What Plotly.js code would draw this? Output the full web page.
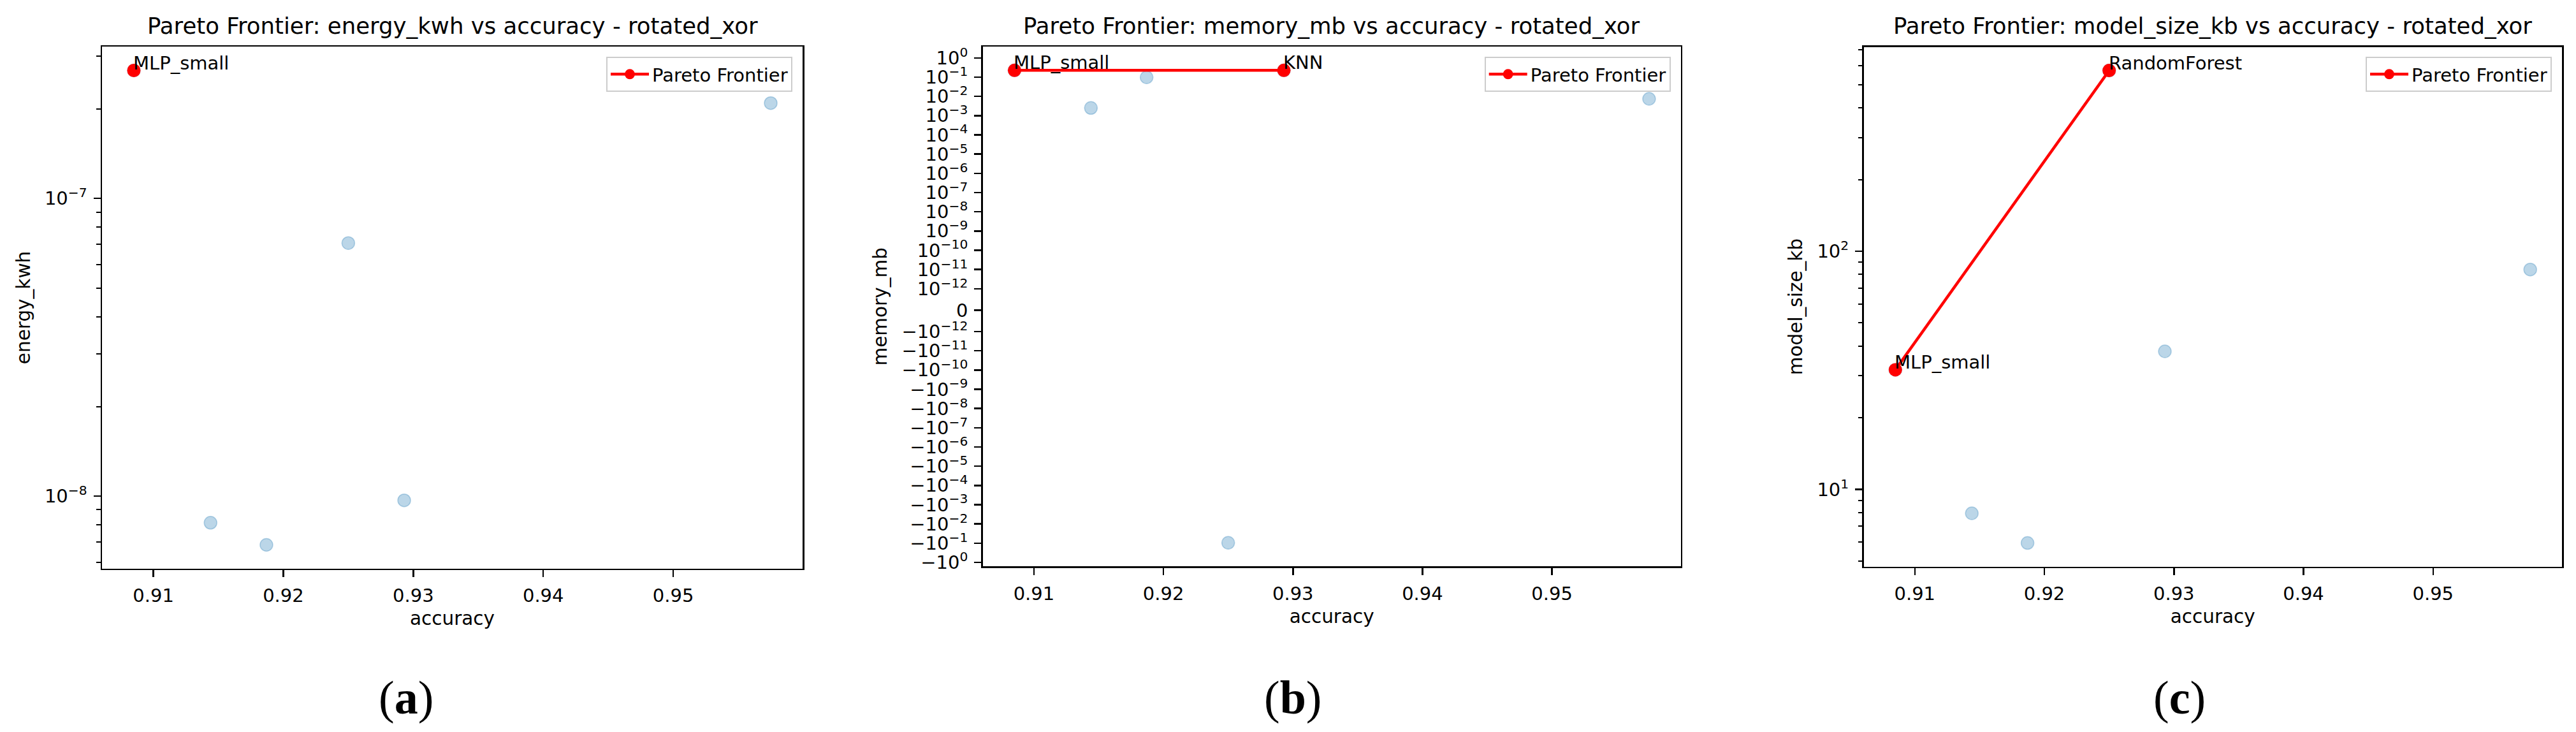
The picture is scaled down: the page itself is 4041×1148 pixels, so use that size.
<!DOCTYPE html>
<html>
<head>
<meta charset="utf-8">
<script src="https://cdn.plot.ly/plotly-3.0.1.min.js"></script>
<style>
  html, body { margin: 0; padding: 0; background: #fff; }
  #chart { width: 4041px; height: 1148px; }
</style>
</head>
<body>
<div id="chart"></div>
<script>
// --- data (dataset rotated_xor) ---
const models = ['MLP_small', 'model_2', 'model_3', 'RandomForest', 'KNN', 'model_6'];
const accuracy = [0.9085, 0.9144, 0.9187, 0.9250, 0.9293, 0.9575];
const energyKwh = [2.69e-7, 8.14e-9, 6.86e-9, 7.08e-8, 9.68e-9, 2.09e-7];
const memoryMb = [0.225, 0.0025, 0.098, -0.096, 0.225, 0.00745];
const modelSizeKb = [31.8, 7.94, 5.96, 574, 38.0, 83.8];

// models on each Pareto frontier
const energyFront = ['MLP_small'];
const memoryFront = ['MLP_small', 'KNN'];
const sizeFront = ['MLP_small', 'RandomForest'];

// tick labels
const accTicks = [0.91, 0.92, 0.93, 0.94, 0.95];
const energyTicks = [1e-8, 1e-7];
const sizeTicks = [10, 100];
const memExponents = [0, -1, -2, -3, -4, -5, -6, -7, -8, -9, -10, -11, -12];

const W = 4041, H = 1148;
const FONT = 'DejaVu Sans';
const px = (v) => v / W;
const py = (v) => 1 - v / H;

// matplotlib-style symlog (linthresh 1e-12, linscale 1), in decade units
const LINTHRESH = 1e-12;
const LINSCALE_ADJ = 1 / (1 - 1 / 10);
function symlog(v) {
  const a = Math.abs(v);
  if (a <= LINTHRESH) return (v / LINTHRESH) * LINSCALE_ADJ;
  return Math.sign(v) * (LINSCALE_ADJ + Math.log10(a / LINTHRESH));
}

const sup = (e) => '10<sup>' + String(e).replace('-', '\u2212') + '</sup>';

function padRange(vals) {
  const lo = Math.min(...vals), hi = Math.max(...vals);
  const m = (hi - lo) * 0.05;
  return [lo - m, hi + m];
}

function minorLog(lo, hi) {
  const out = [];
  for (let e = Math.floor(lo) - 1; e <= Math.ceil(hi); e++) {
    for (let k = 2; k <= 9; k++) {
      const v = k * Math.pow(10, e);
      if (Math.log10(v) >= lo && Math.log10(v) <= hi) out.push(v);
    }
  }
  return out;
}

const axisBase = {
  showline: true, mirror: true, linecolor: 'black', linewidth: 2.5,
  ticks: 'outside', ticklen: 11, tickwidth: 2.5, tickcolor: 'black',
  showgrid: false, zeroline: false,
  tickfont: { family: FONT, size: 29, color: 'black' },
  ticklabelstandoff: 4,
};

function xAxis(domain) {
  return Object.assign({}, axisBase, {
    domain: domain,
    range: padRange(accuracy),
    tickvals: accTicks,
    ticktext: accTicks.map((v) => v.toFixed(2)),
    title: { text: 'accuracy', font: { family: FONT, size: 29.5, color: 'black' }, standoff: 10 },
  });
}

const pick = (arr, names) => names.map((n) => arr[models.indexOf(n)]);

const blue = 'rgba(31,119,180,0.3)';
function scatterTrace(xa, ya, yvals) {
  return {
    x: accuracy, y: yvals, xaxis: xa, yaxis: ya,
    type: 'scatter', mode: 'markers', showlegend: false, hoverinfo: 'skip',
    marker: { color: blue, size: 20, line: { color: blue, width: 1.5 } },
  };
}
function frontTrace(xa, ya, names, arr, legend) {
  return {
    x: pick(accuracy, names), y: pick(arr, names), xaxis: xa, yaxis: ya,
    type: 'scatter', mode: 'lines+markers', name: 'Pareto Frontier', legend: legend,
    line: { color: 'red', width: 4.5 },
    marker: { color: 'red', size: 21 },
  };
}

// panel (b) uses symlog-transformed values on a linear axis
const memT = memoryMb.map(symlog);

const traces = [
  scatterTrace('x', 'y', energyKwh),
  frontTrace('x', 'y', energyFront, energyKwh, 'legend'),
  scatterTrace('x2', 'y2', memT),
  frontTrace('x2', 'y2', memoryFront, memT, 'legend2'),
  scatterTrace('x3', 'y3', modelSizeKb),
  frontTrace('x3', 'y3', sizeFront, modelSizeKb, 'legend3'),
];

const domA = { x: [px(160), px(1259)], y: [py(891.7), py(73.3)] };
const domB = { x: [px(1541.7), px(2636.7)], y: [py(888.3), py(73.3)] };
const domC = { x: [px(2923.5), px(4019)], y: [py(888.6), py(73.5)] };

const energyRange = padRange(energyKwh.map(Math.log10));
const sizeRange = padRange(modelSizeKb.map(Math.log10));
const memRange = padRange(memT);

const memTickVals = memExponents.map((e) => symlog(Math.pow(10, e)))
  .concat([0])
  .concat(memExponents.slice().reverse().map((e) => symlog(-Math.pow(10, e))));
const memTickText = memExponents.map(sup)
  .concat(['0'])
  .concat(memExponents.slice().reverse().map((e) => '\u2212' + sup(e)));

const yTitle = (t) => ({ text: t, font: { family: FONT, size: 29.5, color: 'black' }, standoff: 14 });
const minorStyle = { ticks: 'outside', ticklen: 6.5, tickwidth: 2, tickcolor: 'black' };

const legendStyle = (right, top) => ({
  x: px(right), xanchor: 'right', y: py(top), yanchor: 'top',
  bgcolor: 'rgba(255,255,255,0.8)', bordercolor: '#cccccc', borderwidth: 2,
  itemwidth: 60,
  font: { family: FONT, size: 29, color: 'black' },
});

function titleNote(text, dom) {
  return {
    xref: 'paper', yref: 'paper', x: (dom.x[0] + dom.x[1]) / 2, y: py(41),
    xanchor: 'center', yanchor: 'middle', showarrow: false, text: text,
    font: { family: FONT, size: 35.5, color: 'black' },
  };
}
function pointNote(xref, yref, name, x, y) {
  return {
    xref: xref, yref: yref, x: x, y: y, xanchor: 'left', yanchor: 'bottom',
    yshift: -7, xshift: -3, showarrow: false, text: name,
    font: { family: FONT, size: 29, color: 'black' },
  };
}
function letterNote(letter, x) {
  return {
    xref: 'paper', yref: 'paper', x: px(x), y: py(1094), xanchor: 'center', yanchor: 'middle',
    showarrow: false, text: '(<b>' + letter + '</b>)',
    font: { family: 'Liberation Serif', size: 74, color: 'black' },
  };
}

const annotations = [
  titleNote('Pareto Frontier: energy_kwh vs accuracy - rotated_xor', domA),
  titleNote('Pareto Frontier: memory_mb vs accuracy - rotated_xor', domB),
  titleNote('Pareto Frontier: model_size_kb vs accuracy - rotated_xor', domC),
  letterNote('a', 637),
  letterNote('b', 2028),
  letterNote('c', 3419),
];
energyFront.forEach((n) => annotations.push(pointNote('x', 'y', n,
  accuracy[models.indexOf(n)], Math.log10(energyKwh[models.indexOf(n)]))));
memoryFront.forEach((n) => annotations.push(pointNote('x2', 'y2', n,
  accuracy[models.indexOf(n)], memT[models.indexOf(n)])));
sizeFront.forEach((n) => annotations.push(pointNote('x3', 'y3', n,
  accuracy[models.indexOf(n)], Math.log10(modelSizeKb[models.indexOf(n)]))));

const layout = {
  width: W, height: H,
  margin: { l: 0, r: 0, t: 0, b: 0 },
  paper_bgcolor: 'white', plot_bgcolor: 'white',
  font: { family: FONT, color: 'black' },
  xaxis: Object.assign(xAxis(domA.x), { anchor: 'y' }),
  yaxis: Object.assign({}, axisBase, {
    domain: domA.y, anchor: 'x', type: 'log', range: energyRange,
    tickvals: energyTicks, ticktext: energyTicks.map((v) => sup(Math.round(Math.log10(v)))),
    minor: Object.assign({ tickvals: minorLog(energyRange[0], energyRange[1]) }, minorStyle),
    title: yTitle('energy_kwh'),
  }),
  xaxis2: Object.assign(xAxis(domB.x), { anchor: 'y2' }),
  yaxis2: Object.assign({}, axisBase, {
    domain: domB.y, anchor: 'x2', range: memRange,
    tickvals: memTickVals, ticktext: memTickText,
    title: yTitle('memory_mb'),
  }),
  xaxis3: Object.assign(xAxis(domC.x), { anchor: 'y3' }),
  yaxis3: Object.assign({}, axisBase, {
    domain: domC.y, anchor: 'x3', type: 'log', range: sizeRange,
    tickvals: sizeTicks, ticktext: sizeTicks.map((v) => sup(Math.round(Math.log10(v)))),
    minor: Object.assign({ tickvals: minorLog(sizeRange[0], sizeRange[1]) }, minorStyle),
    title: yTitle('model_size_kb'),
  }),
  legend: legendStyle(1259 - 16, 73 + 16),
  legend2: legendStyle(2636.7 - 16, 73 + 16),
  legend3: legendStyle(4019 - 16, 73 + 16),
  annotations: annotations,
};

Plotly.newPlot('chart', traces, layout, { staticPlot: true });
</script>
</body>
</html>
